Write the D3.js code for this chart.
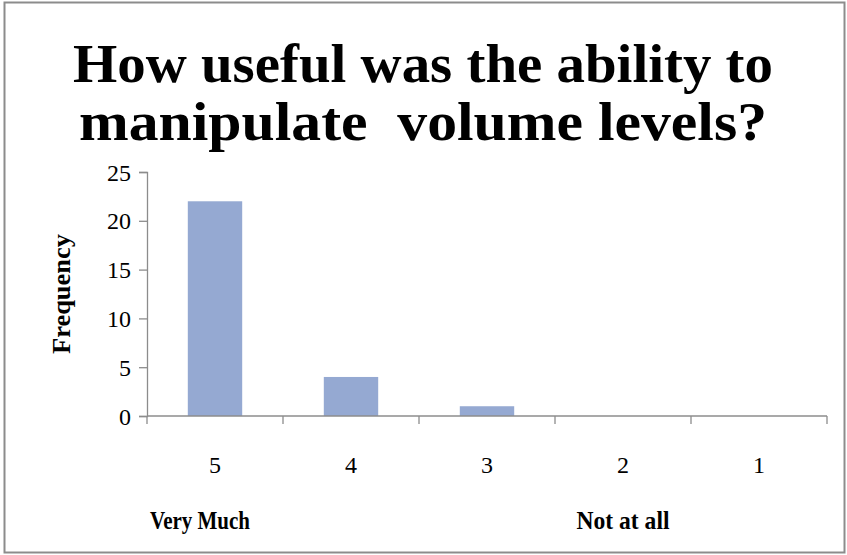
<!DOCTYPE html>
<html>
<head>
<meta charset="utf-8">
<script src="https://cdn.jsdelivr.net/npm/d3@7"></script>
<style>
  body { margin: 0; background: #fff; }
  text { font-family: "Liberation Serif", "DejaVu Serif", serif; fill: #000; }
</style>
</head>
<body>
<svg id="chart"></svg>
<script>
var width = 847,
    height = 555;

// data
var categories = ["5", "4", "3", "2", "1"];
var frequency = [22, 4, 1, 0, 0];
var yTicks = [0, 5, 10, 15, 20, 25];
var titleLines = ["How useful was the ability to", "manipulate  volume levels?"];
var yTitle = "Frequency";
var endLabels = [["Very Much", "5"], ["Not at all", "2"]];

var margin = {top: 172, right: 20, bottom: 139, left: 147},
    plotW = 827 - margin.left,
    plotH = 416 - margin.top;

var svg = d3.select("#chart").attr("width", width).attr("height", height);

// outer chart border
svg.append("rect")
  .attr("x", 4.5).attr("y", 2.5)
  .attr("width", 840).attr("height", 550)
  .attr("fill", "#fff")
  .attr("stroke", "#8c8c8c")
  .attr("stroke-width", 2);

// title
svg.selectAll(".title")
  .data(titleLines)
  .enter().append("text")
  .attr("class", "title")
  .attr("x", 423)
  .attr("y", function(d, i) { return 82 + i * 58; })
  .attr("text-anchor", "middle")
  .style("font-weight", "bold")
  .style("font-size", "54px")
  .style("white-space", "pre")
  .attr("textLength", function(d, i) { return i === 0 ? 700 : 688; })
  .attr("lengthAdjust", "spacingAndGlyphs")
  .text(function(d) { return d; });

var g = svg.append("g").attr("transform", "translate(" + margin.left + "," + margin.top + ")");

var x = d3.scaleBand().domain(categories).range([0, plotW]).paddingInner(0.6).paddingOuter(0.3);
var xAxisScale = d3.scaleBand().domain(categories).range([0, plotW]);
var y = d3.scaleLinear().domain([0, 25]).range([plotH, 0]);

// bars
g.selectAll(".bar")
  .data(frequency)
  .enter().append("rect")
  .attr("class", "bar")
  .attr("x", function(d, i) { return x(categories[i]); })
  .attr("width", x.bandwidth())
  .attr("y", function(d) { return y(d); })
  .attr("height", function(d) { return plotH - y(d); })
  .attr("fill", "#95a9d2");

// y axis
var yAxis = g.append("g")
  .call(d3.axisLeft(y).tickValues(yTicks).tickSize(8).tickPadding(8));
yAxis.selectAll("path, line").attr("stroke", "#8c8c8c").attr("stroke-width", 1.3);
yAxis.selectAll("text").style("font-size", "24px").style("font-family", "Liberation Serif").attr("dy", "0.34em");

// x axis: ticks on band edges
var xAxis = g.append("g").attr("transform", "translate(0," + plotH + ")");
xAxis.append("line")
  .attr("x1", 0).attr("x2", plotW)
  .attr("stroke", "#8c8c8c").attr("stroke-width", 1.3);
xAxis.selectAll(".xtick")
  .data(d3.range(categories.length + 1))
  .enter().append("line")
  .attr("x1", function(i) { return i * xAxisScale.step(); })
  .attr("x2", function(i) { return i * xAxisScale.step(); })
  .attr("y1", 0).attr("y2", 8)
  .attr("stroke", "#8c8c8c").attr("stroke-width", 1.3);
xAxis.selectAll(".xlab")
  .data(categories)
  .enter().append("text")
  .attr("x", function(d) { return xAxisScale(d) + xAxisScale.bandwidth() / 2; })
  .attr("y", 57)
  .attr("text-anchor", "middle")
  .style("font-size", "24px")
  .text(function(d) { return d; });

// end labels under the axis
svg.selectAll(".endlab")
  .data(endLabels)
  .enter().append("text")
  .attr("class", "endlab")
  .attr("x", function(d) { return margin.left + xAxisScale(d[1]) + xAxisScale.bandwidth() / 2 - (d[1] === "5" ? 15 : 0); })
  .attr("y", 529)
  .attr("text-anchor", "middle")
  .style("font-weight", "bold")
  .style("font-size", "25px")
  .attr("textLength", function(d) { return d[1] === "5" ? 100 : 93; })
  .attr("lengthAdjust", "spacingAndGlyphs")
  .text(function(d) { return d[0]; });

// y axis title
svg.append("text")
  .attr("transform", "translate(70," + (margin.top + plotH / 2) + ") rotate(-90)")
  .attr("text-anchor", "middle")
  .style("font-weight", "bold")
  .style("font-size", "25px")
  .attr("textLength", 120)
  .attr("lengthAdjust", "spacingAndGlyphs")
  .text(yTitle);
</script>
</body>
</html>
